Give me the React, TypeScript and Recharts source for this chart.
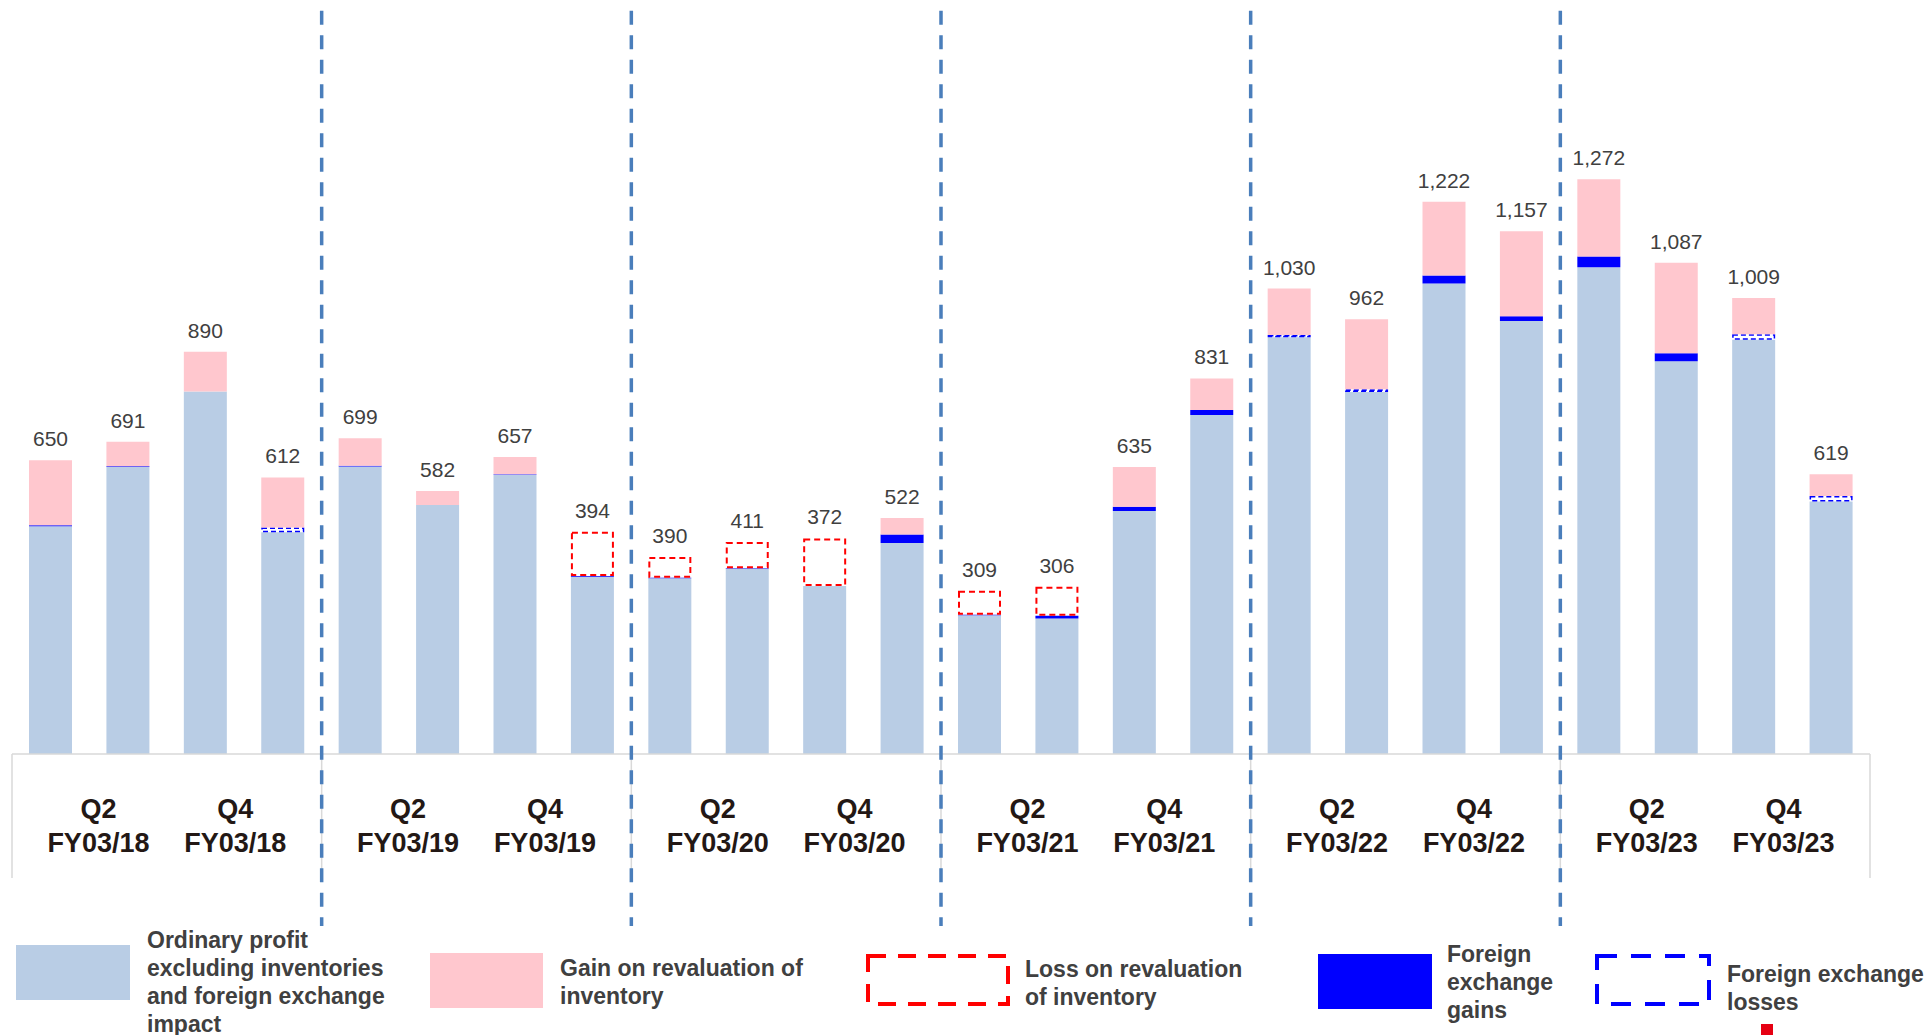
import { BarChart, Bar, XAxis, YAxis, LabelList } from "recharts";

// quarters, 4 per fiscal year
const quarters = [
  "Q1 FY03/18", "Q2 FY03/18", "Q3 FY03/18", "Q4 FY03/18",
  "Q1 FY03/19", "Q2 FY03/19", "Q3 FY03/19", "Q4 FY03/19",
  "Q1 FY03/20", "Q2 FY03/20", "Q3 FY03/20", "Q4 FY03/20",
  "Q1 FY03/21", "Q2 FY03/21", "Q3 FY03/21", "Q4 FY03/21",
  "Q1 FY03/22", "Q2 FY03/22", "Q3 FY03/22", "Q4 FY03/22",
  "Q1 FY03/23", "Q2 FY03/23", "Q3 FY03/23", "Q4 FY03/23",
];

// ordinary profit excluding inventories and FX impact
const baseProfit = [504, 635, 802, 491, 636, 551, 618, 392, 389, 410, 372, 467, 307, 300, 538, 750, 922, 801, 1041, 958, 1077, 869, 917, 559];
const fxGains = [2, 2, 0, 0, 2, 0, 1, 2, 1, 1, 0, 19, 1, 6, 9, 11, 0, 0, 18, 11, 24, 18, 0, 0];
const fxLosses = [0, 0, 0, 10, 0, 0, 0, 0, 0, 0, 0, 0, 0, 0, 0, 0, 5, 6, 0, 0, 0, 0, 12, 12];
const invGains = [144, 54, 88, 111, 61, 31, 38, 0, 0, 0, 0, 36, 0, 0, 88, 70, 103, 155, 163, 188, 171, 200, 80, 48];
const invLosses = [0, 0, 0, 0, 0, 0, 0, 98, 46, 58, 105, 0, 53, 64, 0, 0, 0, 0, 0, 0, 0, 0, 0, 0];
const totals = [650, 691, 890, 612, 699, 582, 657, 394, 390, 411, 372, 522, 309, 306, 635, 831, 1030, 962, 1222, 1157, 1272, 1087, 1009, 619];

const legendLabels = [
  ["Ordinary profit", "excluding inventories", "and foreign exchange", "impact"],
  ["Gain on revaluation of", "inventory"],
  ["Loss on revaluation", "of inventory"],
  ["Foreign", "exchange", "gains"],
  ["Foreign exchange", "losses"],
];

const data = quarters.map((q, i) => ({
  q,
  base: baseProfit[i],
  fxGain: fxGains[i],
  fxLoss: fxLosses[i],
  invGain: invGains[i],
  invLoss: invLosses[i],
  label: totals[i],
}));

const W = 1932;
const H = 1035;
const M = { top: 31, right: 62, bottom: 161, left: 12 };
const AXIS_H = 120;
const PLOT_W = W - M.left - M.right;
const BAND = PLOT_W / quarters.length;
const AXIS_Y = H - M.bottom - AXIS_H;

const FONT = "Arial, 'Liberation Sans', Helvetica, sans-serif";
const BLUE_LIGHT = "#B9CDE5";
const PINK = "#FFC7CE";
const FX_BLUE = "#0000FF";
const LOSS_RED = "#FF0000";
const DIVIDER = "#4A7EBB";

function dashedBox(color: string, sw: number, dash: string) {
  return (p: any) => {
    const h = Math.abs(p.height ?? 0);
    if (!h) return <g />;
    const y = Math.min(p.y, p.y + p.height);
    return (
      <rect
        x={p.x + sw / 2}
        y={y + sw / 2}
        width={Math.max(p.width - sw, 0)}
        height={Math.max(h - sw, 0.5)}
        fill="#fff"
        stroke={color}
        strokeWidth={sw}
        strokeDasharray={dash}
      />
    );
  };
}

function QuarterTick(props: any) {
  const { x, index, payload } = props;
  const left = x - BAND / 2;
  // half-year labels sit a little toward the middle of each fiscal year
  const lx = left + (index % 4 === 1 ? 9 : -9);
  const [qt, fy] = String(payload?.value ?? "").split(" ");
  return (
    <g>
      {index % 4 === 0 && (
        <line x1={left} x2={left} y1={AXIS_Y} y2={878} stroke="#D9D9D9" strokeWidth={1.5} />
      )}
      {index === quarters.length - 1 && (
        <line x1={x + BAND / 2} x2={x + BAND / 2} y1={AXIS_Y} y2={878} stroke="#D9D9D9" strokeWidth={1.5} />
      )}
      {index % 4 === 0 && index > 0 && (
        <line x1={left} x2={left} y1={10.7} y2={926} stroke={DIVIDER} strokeWidth={3.5} strokeDasharray="14 10.5" />
      )}
      {index % 2 === 1 && (
        <text x={lx} textAnchor="middle" fontFamily={FONT} fontWeight="bold" fontSize={27} fill="#231815">
          <tspan x={lx} y={818}>{qt}</tspan>
          <tspan x={lx} y={852}>{fy}</tspan>
        </text>
      )}
    </g>
  );
}

function TotalLabel(props: any) {
  const { x, y, width, height, value } = props;
  const top = Math.min(y, y + (height ?? 0));
  return (
    <text x={x + width / 2} y={top - 14} textAnchor="middle" fontFamily={FONT} fontSize={21} fill="#404040">
      {Number(value).toLocaleString("en-US")}
    </text>
  );
}

function Legend() {
  const txt = { fontFamily: FONT, fontWeight: "bold" as const, fontSize: 23, fill: "#404040" };
  const lines = (k: number, x: number, y0: number) =>
    legendLabels[k].map((s, i) => (
      <text key={i} x={x} y={y0 + i * 28} {...txt}>{s}</text>
    ));
  return (
    <svg width={W} height={H} style={{ position: "absolute", left: 0, top: 0, pointerEvents: "none" }}>
      <rect x={16} y={945} width={114} height={55} fill={BLUE_LIGHT} />
      {lines(0, 147, 948)}
      <rect x={430} y={953} width={113} height={55} fill={PINK} />
      {lines(1, 560, 976)}
      <rect x={868} y={956} width={140} height={48} fill="none" stroke={LOSS_RED} strokeWidth={4} strokeDasharray="18 12" />
      {lines(2, 1025, 977)}
      <rect x={1318} y={954} width={114} height={55} fill={FX_BLUE} />
      {lines(3, 1447, 962)}
      <rect x={1597} y={956} width={112} height={48} fill="none" stroke={FX_BLUE} strokeWidth={4} strokeDasharray="20 14" />
      {lines(4, 1727, 982)}
      <rect x={1761} y={1024} width={12} height={11} fill="#E60012" />
    </svg>
  );
}

export default function App() {
  return (
    <div style={{ position: "absolute", left: 0, top: 0, width: W, height: H, background: "#fff" }}>
      <BarChart width={W} height={H} data={data} margin={M} barSize={43}>
        <XAxis
          dataKey="q"
          interval={0}
          height={AXIS_H}
          tickLine={false}
          axisLine={{ stroke: "#D9D9D9", strokeWidth: 1.5 }}
          tick={(p: any) => <QuarterTick {...p} />}
        />
        <YAxis hide domain={[0, 1600]} />
        <Bar dataKey="base" stackId="a" fill={BLUE_LIGHT} isAnimationActive={false} />
        <Bar dataKey="fxGain" stackId="a" fill={FX_BLUE} isAnimationActive={false} />
        <Bar dataKey="fxLoss" stackId="a" shape={dashedBox(FX_BLUE, 1.5, "5 3")} isAnimationActive={false} />
        <Bar dataKey="invGain" stackId="a" fill={PINK} isAnimationActive={false} />
        <Bar dataKey="invLoss" stackId="a" shape={dashedBox(LOSS_RED, 2, "6 4")} isAnimationActive={false}>
          <LabelList dataKey="label" content={(p: any) => <TotalLabel {...p} />} />
        </Bar>
      </BarChart>
      <Legend />
    </div>
  );
}
